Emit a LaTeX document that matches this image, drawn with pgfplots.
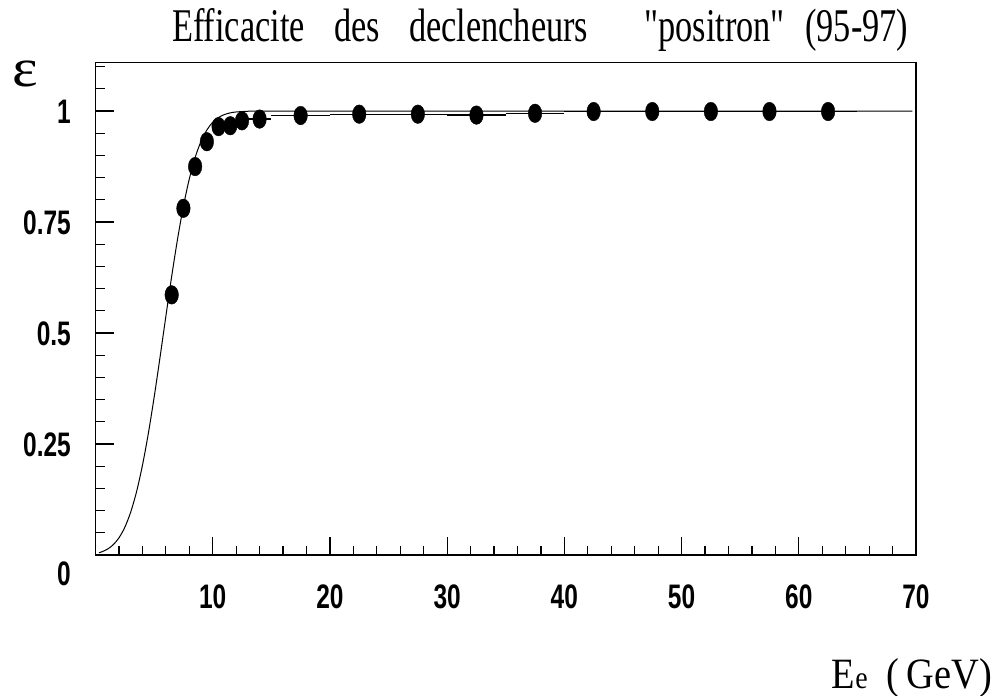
\documentclass[border=0pt]{standalone}
\usepackage{graphicx}
\usepackage{pgfplots}
\pgfplotsset{compat=1.18}
\usepackage{fontspec}
\setmainfont{Liberation Serif}
\newfontfamily\plainserif{Liberation Serif}[Ligatures=TeXOff]
\newfontfamily\lsans{Liberation Sans}
\newcommand\tl[1]{\scalebox{0.72}[1]{#1}}
\pgfplotstableread{
x y
0.3 0.0053
0.5 0.0068
1.0 0.0128
1.5 0.0228
2.0 0.0386
2.5 0.0624
3.0 0.0964
3.5 0.1423
4.0 0.2013
4.5 0.2726
5.0 0.3549
5.5 0.4444
6.0 0.5371
6.5 0.6278
7.0 0.7116
7.5 0.7855
8.0 0.8469
8.5 0.8954
9.0 0.9316
9.5 0.9574
10.0 0.9746
10.5 0.9856
11.0 0.9922
11.5 0.9960
12.0 0.9980
13.0 0.9996
14.0 1.0
20.0 1.0
40.0 1.0
69.7 1.0
}\fitdata
\pgfplotstableread{
x y ex
6.5 0.586 0.5
7.5 0.781 0.5
8.5 0.875 0.5
9.5 0.931 0.5
10.5 0.965 0.5
11.5 0.967 0.5
12.5 0.978 0.5
14.0 0.982 1.0
17.5 0.990 2.5
22.5 0.993 2.5
27.5 0.993 2.5
32.5 0.991 2.5
37.5 0.995 2.5
42.5 0.999 2.5
47.5 0.999 2.5
52.5 0.999 2.5
57.5 0.999 2.5
62.5 0.999 2.5
}\effdata
\begin{document}
\begin{tikzpicture}[x=1pt,y=1pt]
\useasboundingbox (0,0) rectangle (994,696);
\begin{axis}[
  at={(95.5pt,141pt)}, anchor=south west,
  width=820.5pt, height=492.3pt, scale only axis,
  xmin=0, xmax=70, ymin=0, ymax=1.109,
  axis line style={line width=1.6pt},
  xtick={10,20,...,70},
  xticklabels={\tl{10},\tl{20},\tl{30},\tl{40},\tl{50},\tl{60},\tl{70}},
  minor xtick={2,4,...,68},
  ytick={0,0.25,0.5,0.75,1},
  yticklabels={\tl{\raisebox{-18.5pt}{0}},\tl{0.25},\tl{0.5},\tl{0.75},\tl{1}},
  minor ytick={0.05,0.1,0.15,0.2,0.3,0.35,0.4,0.45,0.55,0.6,0.65,0.7,0.8,0.85,0.9,0.95,1.05,1.1},
  tick align=inside, xtick pos=left, ytick pos=left,
  major tick length=18pt, minor tick length=9pt,
  every tick/.style={line width=1.2pt, black},
  xticklabel style={font=\lsans\bfseries\fontsize{34}{34}\selectfont, anchor=base, yshift=-54pt, inner sep=0pt},
  yticklabel style={font=\lsans\bfseries\fontsize{34}{34}\selectfont, anchor=base east, xshift=-24.5pt, yshift=-12pt, inner sep=0pt},
]
\addplot[black, line width=1pt, smooth, no marks] table[x=x,y=y] {\fitdata};
\addplot[black, only marks, mark=*, mark size=9.3pt, mark options={xscale=0.73, fill=black},
  error bars/.cd, x dir=both, x explicit, error mark=none,
  error bar style={line width=1.3pt, black}]
  table[x=x, y=y, x error=ex] {\effdata};
\end{axis}
\node[anchor=base west, inner sep=0pt] at (172, 654) {\resizebox{736pt}{33pt}{\plainserif\fontsize{47}{47}\selectfont Efficacite\hspace{40pt}des\hspace{40pt}declencheurs\hspace{77pt}"positron"\hspace{28pt}(95-97)}};
\node[anchor=south west, inner sep=0pt] at (12, 608.7) {\resizebox{25.6pt}{25.6pt}{ε}};
\node[anchor=base west, inner sep=0pt] at (831.7, 7.7) {\resizebox{160pt}{30pt}{\fontsize{44}{44}\selectfont E{\fontsize{32}{32}\selectfont e}\hspace{22pt}(\hspace{8pt}GeV)}};
\end{tikzpicture}
\end{document}
